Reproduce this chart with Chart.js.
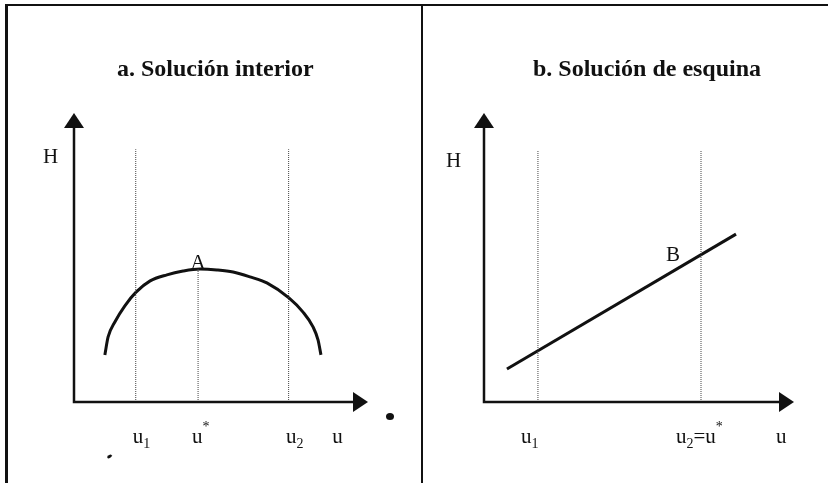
<!DOCTYPE html>
<html>
<head>
<meta charset="utf-8">
<script src="https://cdn.jsdelivr.net/npm/chart.js@4.4.1/dist/chart.umd.min.js"></script>
<style>
html, body { margin: 0; padding: 0; background: #fff; }
body { width: 828px; height: 483px; position: relative; overflow: hidden; }
#frame { position: absolute; left: 5px; top: 4px; right: 0; bottom: 0; border-top: 2px solid #111; border-left: 3px solid #111; }
#divider { position: absolute; left: 421px; top: 4px; bottom: 0; width: 2px; background: #111; }
#wrapA { position: absolute; left: 0; top: 0; width: 421px; height: 483px; }
#wrapB { position: absolute; left: 423px; top: 0; width: 405px; height: 483px; }
.speck { position: absolute; background: #111; border-radius: 50%; }
</style>
</head>
<body>
<div id="frame"></div>
<div id="divider"></div>
<div class="speck" style="left:386px;top:413px;width:8px;height:7px;"></div>
<div class="speck" style="left:107px;top:455px;width:5px;height:3px;transform:rotate(-30deg);"></div>
<div id="wrapA"><canvas id="chartA" width="421" height="483"></canvas></div>
<div id="wrapB"><canvas id="chartB" width="405" height="483"></canvas></div>

<script>
/* ------------------------------------------------------------
   DATA (u on the horizontal axis, H on the vertical, 0..10)
   ------------------------------------------------------------ */
// a. interior solution: the H(u) curve
const curveU = [1.05, 1.16, 1.39, 1.73, 2.11, 2.59, 3.16, 3.71, 4.29, 4.86, 5.41, 5.99, 6.56, 7.31, 7.79, 8.13, 8.30, 8.40];
const curveH = [1.63, 2.25, 2.77, 3.33, 3.80, 4.19, 4.40, 4.53, 4.60, 4.57, 4.50, 4.33, 4.12, 3.60, 3.11, 2.60, 2.15, 1.63];

// dotted guides: u1, u*, u2 and how high each one goes
const guideU_A = [2.1, 4.22, 7.3];
const guideTop_A = [8.75, 4.6, 8.75];

// tick labels under the u axis (where the text starts)
const tickText_A = ["u_1", "u^*", "u_2", "u"];
const tickU_A = [2.0, 4.01, 7.21, 8.78];

const pointLabels_A = [{ u: 4.22, h: 4.6, text: "A" }];

// b. corner solution: straight H(u)
const lineU = [0.74, 8.13];
const lineH = [1.14, 5.81];

const guideU_B = [1.74, 7.0];
const guideTop_B = [8.72, 8.72];

const tickText_B = ["u_1", "u_2=u^*", "u"];
const tickU_B = [1.19, 6.19, 9.42];

const pointLabels_B = [{ u: 6.1, h: 4.88, text: "B" }];

/* ------------------------------------------------------------
   HELPERS
   ------------------------------------------------------------ */
const SERIF = '"Liberation Serif", "Times New Roman", serif';

// "u_1" -> u with subscript 1, "u^*" -> u with superscript *
function drawRichLabel(ctx, str, x, y) {
    let cx = x;
    for (let i = 0; i < str.length; i++) {
        let ch = str[i];
        let dy = 0;
        let size = 21;
        if ((ch === "_" || ch === "^") && i + 1 < str.length) {
            dy = ch === "_" ? 5 : -12;
            size = 14;
            ch = str[++i];
        }
        ctx.font = size + "px " + SERIF;
        ctx.fillText(ch, cx, y + dy);
        cx += ctx.measureText(ch).width;
    }
}

function makeGuides(us, tops) {
    return us.map((u, i) => ({
        data: [{ x: u, y: 0 }, { x: u, y: tops[i] }],
        showLine: true,
        borderColor: "#444",
        borderWidth: 1,
        borderDash: [1, 1],
        pointRadius: 0,
        clip: false
    }));
}

function toPoints(xs, ys) {
    return xs.map((x, i) => ({ x: x, y: ys[i] }));
}

/* axes with arrows, titles and text labels */
const diagramPlugin = {
    id: "diagram",
    afterDatasetsDraw(chart, args, opts) {
        const { ctx, scales } = chart;
        const xs = scales.x, ys = scales.y;
        const ox = xs.getPixelForValue(0);
        const oy = ys.getPixelForValue(0);
        const tipX = xs.getPixelForValue(xs.max);
        const tipY = ys.getPixelForValue(ys.max);

        ctx.save();
        ctx.strokeStyle = "#111";
        ctx.fillStyle = "#111";
        ctx.lineWidth = 2.5;
        ctx.beginPath();
        ctx.moveTo(ox, tipY + 10);
        ctx.lineTo(ox, oy);
        ctx.lineTo(tipX - 10, oy);
        ctx.stroke();

        // arrow heads
        ctx.beginPath();
        ctx.moveTo(tipX, oy);
        ctx.lineTo(tipX - 15, oy - 10);
        ctx.lineTo(tipX - 15, oy + 10);
        ctx.closePath();
        ctx.fill();
        ctx.beginPath();
        ctx.moveTo(ox, tipY);
        ctx.lineTo(ox - 10, tipY + 15);
        ctx.lineTo(ox + 10, tipY + 15);
        ctx.closePath();
        ctx.fill();

        // title
        ctx.textAlign = "left";
        ctx.textBaseline = "alphabetic";
        ctx.font = "bold 24px " + SERIF;
        ctx.fillText(opts.title, opts.titleX, 76);

        // H
        ctx.font = "21px " + SERIF;
        ctx.fillText("H", ox + opts.hOffset, opts.hBase);

        // tick labels
        opts.tickText.forEach((t, i) => {
            drawRichLabel(ctx, t, xs.getPixelForValue(opts.tickU[i]), oy + 41);
        });

        // point labels
        ctx.textAlign = "center";
        ctx.font = "21px " + SERIF;
        opts.pointLabels.forEach(p => {
            ctx.fillText(p.text, xs.getPixelForValue(p.u), ys.getPixelForValue(p.h));
        });
        ctx.restore();
    }
};

function baseOptions(padLeft, padRight, plug) {
    return {
        responsive: false,
        animation: false,
        layout: { padding: { left: padLeft, right: padRight, top: 113, bottom: 81 } },
        scales: {
            x: { type: "linear", min: 0, max: 10, display: false },
            y: { type: "linear", min: 0, max: 10, display: false }
        },
        plugins: {
            legend: { display: false },
            tooltip: { enabled: false },
            diagram: plug
        }
    };
}

/* ------------------------------------------------------------
   a. Solución interior
   ------------------------------------------------------------ */
new Chart(document.getElementById("chartA"), {
    type: "scatter",
    data: {
        datasets: [
            ...makeGuides(guideU_A, guideTop_A),
            {
                data: toPoints(curveU, curveH),
                showLine: true,
                borderColor: "#111",
                borderWidth: 3,
                cubicInterpolationMode: "monotone",
                pointRadius: 0,
                clip: false
            }
        ]
    },
    options: baseOptions(74, 53, {
        title: "a. Solución interior",
        titleX: 117,
        hOffset: -31,
        hBase: 163,
        tickText: tickText_A,
        tickU: tickU_A,
        pointLabels: pointLabels_A
    }),
    plugins: [diagramPlugin]
});

/* ------------------------------------------------------------
   b. Solución de esquina
   ------------------------------------------------------------ */
new Chart(document.getElementById("chartB"), {
    type: "scatter",
    data: {
        datasets: [
            ...makeGuides(guideU_B, guideTop_B),
            {
                data: toPoints(lineU, lineH),
                showLine: true,
                borderColor: "#111",
                borderWidth: 3,
                pointRadius: 0,
                clip: false
            }
        ]
    },
    options: baseOptions(61, 34, {
        title: "b. Solución de esquina",
        titleX: 110,
        hOffset: -38,
        hBase: 167,
        tickText: tickText_B,
        tickU: tickU_B,
        pointLabels: pointLabels_B
    }),
    plugins: [diagramPlugin]
});
</script>
</body>
</html>
